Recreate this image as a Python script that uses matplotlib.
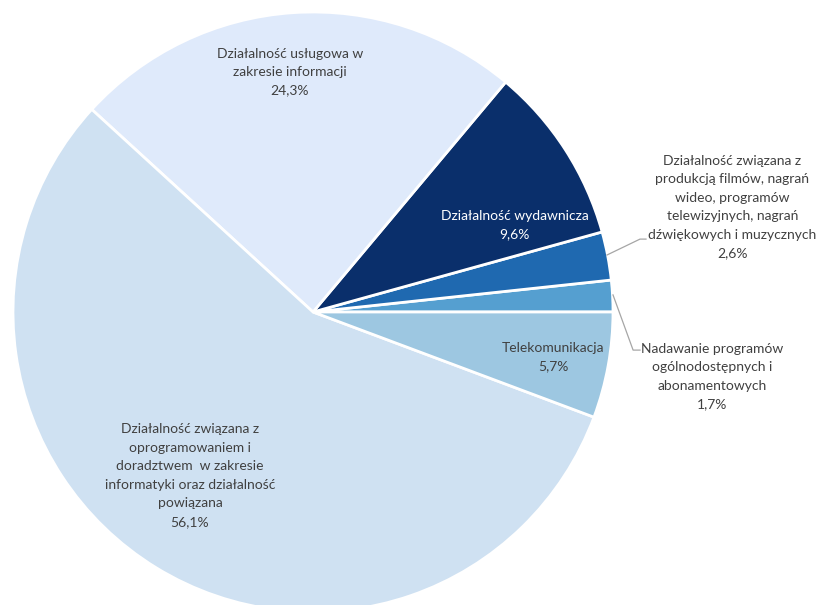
import matplotlib.pyplot as plt

labels = [
    "Nadawanie programów\nogólnodostępnych i\nabonamentowych",
    "Działalność związana z\nprodukcją filmów, nagrań\nwideo, programów\ntelewizyjnych, nagrań\ndźwiękowych i muzycznych",
    "Działalność wydawnicza",
    "Działalność usługowa w\nzakresie informacji",
    "Działalność związana z\noprogramowaniem i\ndoradztwem  w zakresie\ninformatyki oraz działalność\npowiązana",
    "Telekomunikacja",
]
values = [1.7, 2.6, 9.6, 24.3, 56.1, 5.7]
colors = ["#559fd0", "#1f69b0", "#0a2f6b", "#dfeafb", "#cfe1f2", "#9dc7e1"]
text_colors = ["#404040", "#404040", "white", "#404040", "#404040", "#404040"]

# label centres in data units (radius = 1)
label_pos = [(1.33, -0.215), (1.398, 0.35), (0.673, 0.29), (-0.077, 0.80), (-0.41, -0.545), (0.80, -0.15)]

plt.rcParams['font.family'] = ['Lato', 'DejaVu Sans']

fig = plt.figure(figsize=(8.17, 6.05), dpi=100)
ax = fig.add_axes([0, 0, 1, 1])
ax.pie(values, colors=colors, startangle=0, counterclock=True, radius=1,
       wedgeprops=dict(edgecolor="white", linewidth=2))
ax.set_aspect("auto")
ax.set_xlim(-313 / 300, (817 - 313) / 300)
ax.set_ylim(-(605 - 312) / 300, 312 / 300)
ax.axis("off")

for lab, v, (x, y), tc in zip(labels, values, label_pos, text_colors):
    txt = lab + "\n" + f"{v:.1f}".replace(".", ",") + "%"
    ax.text(x, y, txt, ha="center", va="center", fontsize=10, color=tc, linespacing=1.65)

# leader lines
ax.plot([0.98, 1.09, 1.11], [0.19, 0.243, 0.243], color="#a6a6a6", lw=0.9)
ax.plot([1.0, 1.067, 1.09], [0.057, -0.127, -0.127], color="#a6a6a6", lw=0.9)

fig.savefig("out.png", dpi=100)
